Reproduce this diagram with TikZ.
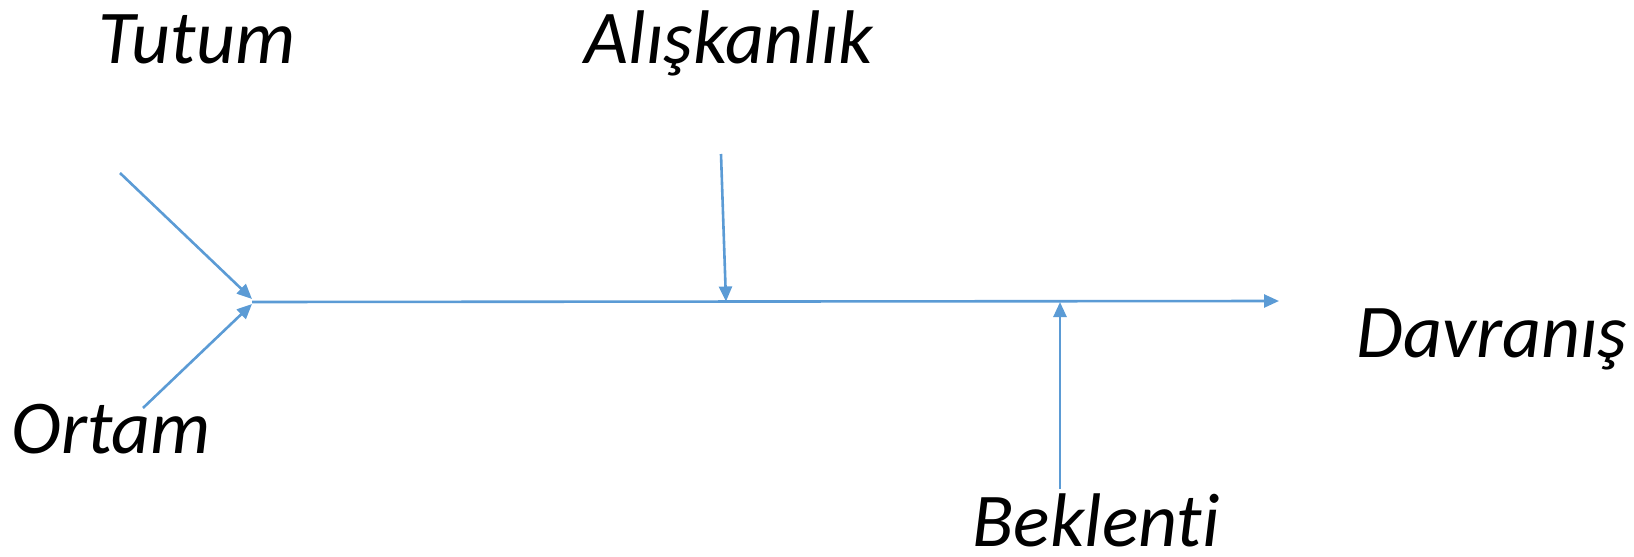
\documentclass[tikz,border=0pt]{standalone}
\usepackage{fontspec}
\setmainfont{Carlito}[Ligatures={NoCommon,NoRare}]
\usetikzlibrary{arrows.meta}
\definecolor{lineblue}{HTML}{5B9BD5}
\begin{document}
\begin{tikzpicture}[x=1pt,y=-1pt,
  lbl/.style={anchor=base,inner sep=0pt,font=\fontsize{76}{90}\selectfont\itshape},
  conn/.style={draw=lineblue,line width=2.6pt,-{Triangle[length=15pt,width=13pt]}}]
\useasboundingbox (0,0) rectangle (1634,557);
\node[lbl] (tutum) at (197,63) {Tutum};
\node[lbl] (alis) at (729,63) {Alışkanlık};
\node[lbl] (davr) at (1492,357) {Davranış};
\node[lbl] (ortam) at (111,453) {Ortam};
\node[lbl] (bek) at (1096,546) {Beklenti};
\coordinate (s) at (252,302);
\coordinate (e) at (1279,301);
\coordinate (t1) at (120,173);
\coordinate (t2) at (252,299);
\coordinate (o1) at (143,408);
\coordinate (o2) at (252,304);
\coordinate (a1) at (721,154);
\coordinate (a2) at (726,301.5);
\coordinate (b1) at (1060,489);
\coordinate (b2) at (1060,302);
\draw[conn] (s) -- (e);
\draw[conn] (t1) -- (t2);
\draw[conn] (o1) -- (o2);
\draw[conn] (a1) -- (a2);
\draw[conn] (b1) -- (b2);
\end{tikzpicture}
\end{document}
